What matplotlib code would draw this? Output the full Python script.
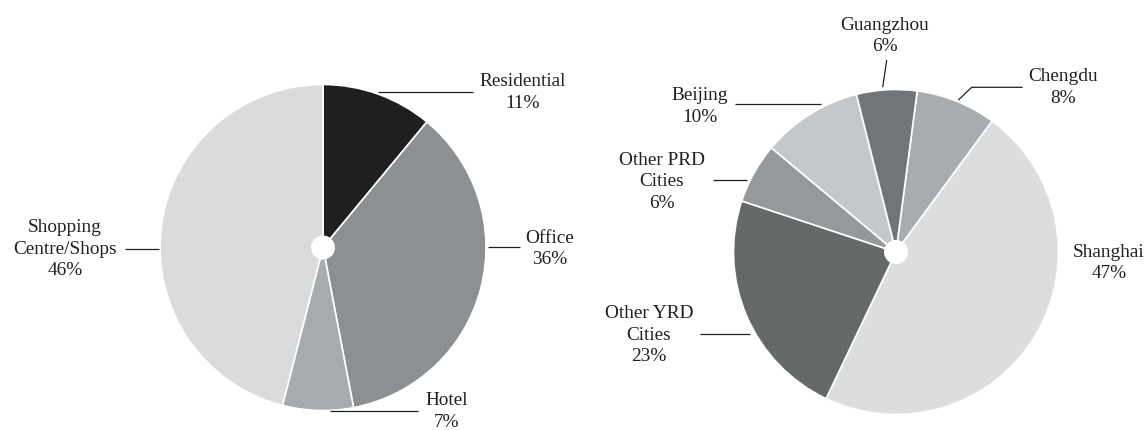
import matplotlib
matplotlib.use("Agg")
import matplotlib.pyplot as plt
from matplotlib.patches import Circle

W, H = 1148, 430

# data
sector_names = ["Residential", "Office", "Hotel", "Shopping\nCentre/Shops"]
sector_pct = [11, 36, 7, 46]
sector_colors = ["#1f1f1d", "#8d9092", "#a8abad", "#d9dbdc"]

city_names = ["Chengdu", "Shanghai", "Other YRD\nCities", "Other PRD\nCities",
              "Beijing", "Guangzhou"]
city_pct = [8, 47, 23, 6, 10, 6]
city_colors = ["#a9acae", "#dcddde", "#66696a", "#96999b", "#c5c8ca", "#727577"]

# layout, in pixels from the top-left corner
left_pie = dict(center=(323, 247.5), radius=163, startangle=90)
right_pie = dict(center=(896, 252), radius=162.5, startangle=82.5)

sector_text = [(523, 92.5), (549.5, 249), (446.5, 411.5), (65, 249)]
sector_leaders = [
    [(378, 91.7), (473, 91.7)],
    [(488, 246.7), (520, 246.7)],
    [(330, 411), (418, 411)],
    [(125, 249), (159, 249)],
]
city_text = [(1063, 87.5), (1109, 263), (649, 335), (662, 182),
             (700, 106.5), (884.5, 36)]
city_leaders = [
    [(958.3, 100), (971.7, 87.3), (1022.7, 87.3)],
    None,
    [(700, 334), (750, 334)],
    [(713, 180), (747, 180)],
    [(735, 104.3), (821, 104.3)],
    [(882.7, 87.3), (886.7, 60)],
]

TEXT_COLOR = "#231f20"
FONT = dict(family="Liberation Serif", size=13.9, color=TEXT_COLOR)


def py(y):
    return H - y


def draw_pie(ax, values, colors, names, text_pos, leaders, spec):
    cx, cy = spec["center"]
    ax.pie(values, colors=colors, startangle=spec["startangle"],
           counterclock=False, center=(cx, py(cy)), radius=spec["radius"],
           wedgeprops=dict(edgecolor="white", linewidth=1.2))
    ax.add_patch(Circle((cx, py(cy)), 12, facecolor="white",
                        edgecolor="none", zorder=5))
    for name, pct, (tx, ty), lead in zip(names, values, text_pos, leaders):
        ax.text(tx, py(ty), f"{name}\n{pct}%", ha="center", va="center",
                linespacing=1.38, **FONT)
        if lead is not None:
            xs = [p[0] for p in lead]
            ys = [py(p[1]) for p in lead]
            ax.plot(xs, ys, color=TEXT_COLOR, lw=0.9, solid_capstyle="butt")


fig = plt.figure(figsize=(W / 100, H / 100), dpi=100)
ax = fig.add_axes([0, 0, 1, 1])
draw_pie(ax, sector_pct, sector_colors, sector_names, sector_text,
         sector_leaders, left_pie)
draw_pie(ax, city_pct, city_colors, city_names, city_text,
         city_leaders, right_pie)
ax.set_xlim(0, W)
ax.set_ylim(0, H)
ax.set_aspect("equal")
ax.axis("off")

fig.savefig("out.png", dpi=100)
